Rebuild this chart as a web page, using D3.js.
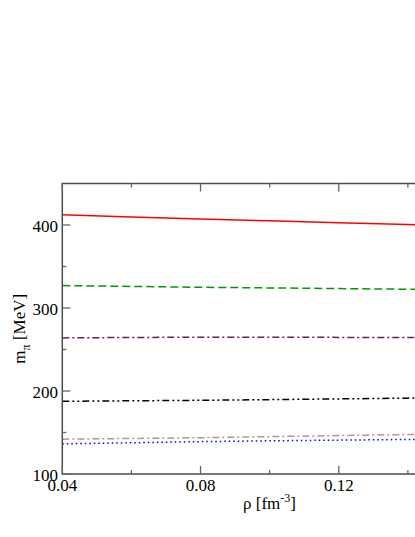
<!DOCTYPE html>
<html>
<head>
<meta charset="utf-8">
<script src="https://cdn.jsdelivr.net/npm/d3@7"></script>
<style>
  body { margin: 0; background: #fff; overflow: hidden; }
</style>
</head>
<body>
<div id="chart"></div>
<script>
// density points (fm^-3)
var rho = [0.04, 0.06, 0.08, 0.10, 0.12, 0.14, 0.16];

// pion mass curves (MeV)
var mRed    = [412.3, 409.6, 407.2, 405.0, 402.8, 400.5, 398.3];
var mGreen  = [327.0, 326.0, 325.0, 324.2, 323.4, 322.6, 322.0];
var mPurple = [264.0, 264.5, 264.8, 264.8, 264.6, 264.4, 264.2];
var mBlack  = [187.6, 188.2, 188.8, 189.6, 190.5, 191.4, 192.3];
var mBrown  = [142.0, 142.8, 143.7, 145.0, 146.3, 147.6, 149.0];
var mBlue   = [136.4, 137.6, 139.0, 140.0, 140.8, 141.6, 142.4];

var xTicks = [0.04, 0.08, 0.12, 0.16];
var xLabels = [0.04, 0.08, 0.12];   // 0.16 falls outside the window
var xMinor = [0.06, 0.10, 0.14];
var yTicks = [100, 200, 300, 400];
var yMinor = [150, 250, 350];

var series = [
  { values: mRed,    color: "#ff0000", dash: null },
  { values: mGreen,  color: "#009a00", dash: "8,4" },
  { values: mPurple, color: "#741a5a", dash: "7,3,2,3" },
  { values: mBlack,  color: "#000000", dash: "7,3,2,3,2,3" },
  { values: mBrown,  color: "#c09090", dash: "7,3,2,3" },
  { values: mBlue,   color: "#0000ff", dash: "1.5,3" }
];

var W = 415, H = 537;
var margin = {top: 183.5, left: 62.3, bottom: 474, right: 477};
var serif = "'Liberation Serif', 'DejaVu Serif', 'Times New Roman', Times, serif";

var svg = d3.select("#chart")
  .append("svg")
    .attr("width", W)
    .attr("height", H)
    .attr("font-family", serif);

var x = d3.scaleLinear()
  .domain([0.04, 0.16])
  .range([margin.left, margin.right]);

var y = d3.scaleLinear()
  .domain([100, 450])
  .range([margin.bottom, margin.top]);

// curves
var line = d3.line()
  .x(function (d, i) { return x(rho[i]); })
  .y(function (d) { return y(d); });

series.forEach(function (s) {
  svg.append("path")
    .datum(s.values)
    .attr("d", line)
    .attr("fill", "none")
    .attr("stroke", s.color)
    .attr("stroke-width", 1.5)
    .attr("stroke-dasharray", s.dash);
});

// frame
svg.append("rect")
  .attr("x", margin.left)
  .attr("y", margin.top)
  .attr("width", margin.right - margin.left)
  .attr("height", margin.bottom - margin.top)
  .attr("fill", "none")
  .attr("stroke", "#4a4a4a")
  .attr("stroke-width", 1.5);

// ticks, all pointing inward
var tickG = svg.append("g").attr("stroke", "#666").attr("stroke-width", 1.3);
xTicks.forEach(function (t) {
  tickG.append("line").attr("x1", x(t)).attr("x2", x(t)).attr("y1", margin.bottom).attr("y2", margin.bottom - 8);
  tickG.append("line").attr("x1", x(t)).attr("x2", x(t)).attr("y1", margin.top).attr("y2", margin.top + 8);
});
xMinor.forEach(function (t) {
  tickG.append("line").attr("x1", x(t)).attr("x2", x(t)).attr("y1", margin.bottom).attr("y2", margin.bottom - 4);
  tickG.append("line").attr("x1", x(t)).attr("x2", x(t)).attr("y1", margin.top).attr("y2", margin.top + 4);
});
yTicks.forEach(function (t) {
  tickG.append("line").attr("x1", margin.left).attr("x2", margin.left + 8).attr("y1", y(t)).attr("y2", y(t));
});
yMinor.forEach(function (t) {
  tickG.append("line").attr("x1", margin.left).attr("x2", margin.left + 4).attr("y1", y(t)).attr("y2", y(t));
});

// tick labels
svg.append("g").selectAll("text")
  .data(xLabels)
  .enter()
  .append("text")
    .attr("font-family", serif)
    .attr("x", function (d) { return x(d); })
    .attr("y", 491)
    .attr("text-anchor", "middle")
    .attr("font-size", 17)
    .text(function (d) { return d3.format(".2f")(d); });

svg.append("g").selectAll("text")
  .data(yTicks)
  .enter()
  .append("text")
    .attr("font-family", serif)
    .attr("x", 58)
    .attr("y", function (d) { return y(d) + 6.5; })
    .attr("text-anchor", "end")
    .attr("font-size", 17)
    .text(function (d) { return d; });

// axis titles
var xl = svg.append("text")
  .attr("font-family", serif)
  .attr("x", 243)
  .attr("y", 509)
  .attr("font-size", 17);
xl.append("tspan").text("\u03c1 [fm");
xl.append("tspan").attr("font-size", 12).attr("dy", -7).text("-3");
xl.append("tspan").attr("dy", 7).text("]");

var yl = svg.append("text")
  .attr("font-family", serif)
  .attr("transform", "translate(25," + ((margin.top + margin.bottom) / 2) + ") rotate(-90)")
  .attr("text-anchor", "middle")
  .attr("font-size", 17);
yl.append("tspan").text("m");
yl.append("tspan").attr("font-size", 12).attr("dy", 5).text("\u03c0");
yl.append("tspan").attr("dy", -5).text(" [MeV]");
</script>
</body>
</html>
